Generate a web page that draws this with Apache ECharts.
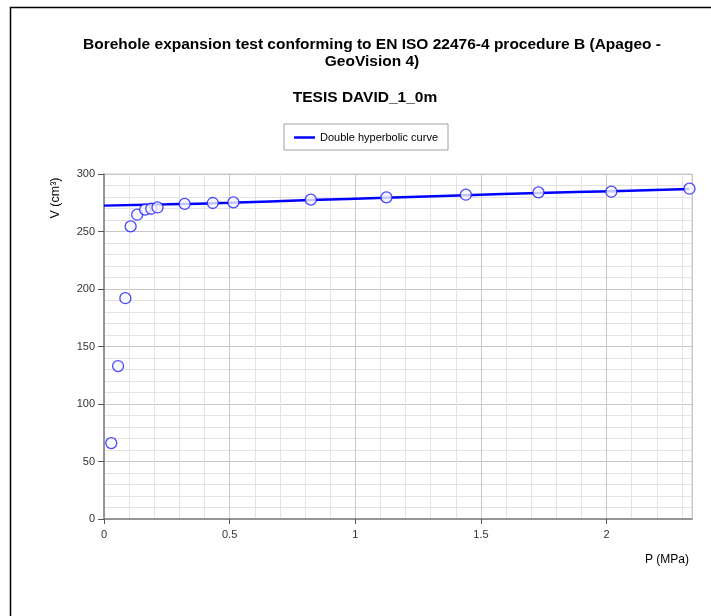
<!DOCTYPE html>
<html>
<head>
<meta charset="utf-8">
<script src="https://cdn.jsdelivr.net/npm/echarts@6/dist/echarts.min.js"></script>
<style>
html,body{margin:0;padding:0;background:#fff;}
#chart{width:711px;height:616px;}
</style>
</head>
<body>
<div id="chart"></div>
<script>
// Measured points (P in MPa, V in cm3)
const pointsP = [0.029, 0.056, 0.085, 0.106, 0.132, 0.164, 0.188, 0.213, 0.321, 0.433, 0.515, 0.823, 1.124, 1.44, 1.729, 2.019, 2.33];
const pointsV = [66, 133, 192, 254.4, 264.6, 269, 269.8, 270.9, 274, 274.8, 275.3, 277.7, 279.7, 282, 284, 284.6, 287.2];
// Double hyperbolic curve
const curveP = [0, 0.25, 0.5, 0.82, 1.12, 1.44, 1.73, 2.02, 2.33];
const curveV = [272.5, 273.6, 275, 277.3, 279.4, 281.6, 283.4, 285.1, 286.9];
// Axis ticks
const xTicks = [0, 0.5, 1, 1.5, 2];
const yTicks = [0, 50, 100, 150, 200, 250, 300];

const titleMain = 'Borehole expansion test conforming to EN ISO 22476-4 procedure B (Apageo -\nGeoVision 4)';
const titleSub = 'TESIS DAVID_1_0m';
const seriesName = 'Double hyperbolic curve';
const xName = 'P (MPa)';
const yName = 'V (cm³)';

const FONT = 'Liberation Sans, Arial, sans-serif';
const chart = echarts.init(document.getElementById('chart'), null, {renderer: 'canvas'});

const option = {
  backgroundColor: '#fff',
  animation: false,
  title: [
    {text: titleMain, left: 372, top: 36, textAlign: 'center', padding: 0,
     textStyle: {fontFamily: FONT, fontSize: 15.5, fontWeight: 'bold', color: '#000', lineHeight: 17}},
    {text: titleSub, left: 365, top: 89, textAlign: 'center', padding: 0,
     textStyle: {fontFamily: FONT, fontSize: 15.5, fontWeight: 'bold', color: '#000', lineHeight: 18}}
  ],
  legend: {
    data: [{name: seriesName, icon: 'rect'}],
    left: 284, top: 124,
    itemWidth: 21, itemHeight: 2.5,
    padding: [8, 10, 7, 10],
    borderColor: '#a0a0a0', borderWidth: 1, backgroundColor: '#fff',
    textStyle: {fontFamily: FONT, fontSize: 11, color: '#000'}
  },
  grid: {left: 104, right: 19, top: 174, bottom: 97, show: true, borderColor: '#c8c8c8', borderWidth: 1},
  xAxis: {
    type: 'value', min: 0, max: 2.34, interval: 0.5,
    axisLine: {show: true, onZero: false, lineStyle: {color: '#808080', width: 1.5}},
    axisTick: {show: true, length: 5, lineStyle: {color: '#555'}},
    axisLabel: {fontFamily: FONT, fontSize: 11, color: '#333', margin: 10, showMaxLabel: false,
      formatter: v => xTicks.indexOf(v) >= 0 ? String(v) : ''},
    splitLine: {show: true, lineStyle: {color: '#c8c8c8', width: 1}},
    minorTick: {show: false, splitNumber: 5},
    minorSplitLine: {show: true, lineStyle: {color: '#e3e3e3', width: 1}}
  },
  yAxis: {
    type: 'value', min: 0, max: 300, interval: 50,
    axisLine: {show: true, onZero: false, lineStyle: {color: '#808080', width: 1.5}},
    axisTick: {show: true, length: 6, lineStyle: {color: '#555'}},
    axisLabel: {fontFamily: FONT, fontSize: 11, color: '#333', margin: 9,
      formatter: v => yTicks.indexOf(v) >= 0 ? String(v) : ''},
    splitLine: {show: true, lineStyle: {color: '#c8c8c8', width: 1}},
    minorTick: {show: false, splitNumber: 5},
    minorSplitLine: {show: true, lineStyle: {color: '#e3e3e3', width: 1}}
  },
  graphic: [
    {type: 'rect', shape: {x: 10.5, y: 7.5, width: 760, height: 700}, style: {fill: 'none', stroke: '#000', lineWidth: 1.5}, z: 100, silent: true},
    {type: 'text', x: 667, y: 560, style: {text: xName, font: '12px ' + FONT, fill: '#000', textAlign: 'center', textVerticalAlign: 'middle'}},
    {type: 'text', x: 56, y: 198, rotation: Math.PI / 2, style: {text: yName, font: '12.5px ' + FONT, fill: '#000', textAlign: 'center', textVerticalAlign: 'middle'}}
  ],
  series: [
    {
      name: seriesName, type: 'line', smooth: true, showSymbol: false,
      data: curveP.map((p, i) => [p, curveV[i]]),
      lineStyle: {color: '#0000ff', width: 2.5}, itemStyle: {color: '#0000ff'}, z: 3
    },
    {
      name: 'points', type: 'scatter', symbol: 'circle', symbolSize: 11,
      data: pointsP.map((p, i) => [p, pointsV[i]]),
      itemStyle: {color: '#f8f8ff', borderColor: '#1a1aff', borderWidth: 1.3}, z: 4
    }
  ]
};
chart.setOption(option);
</script>
</body>
</html>
